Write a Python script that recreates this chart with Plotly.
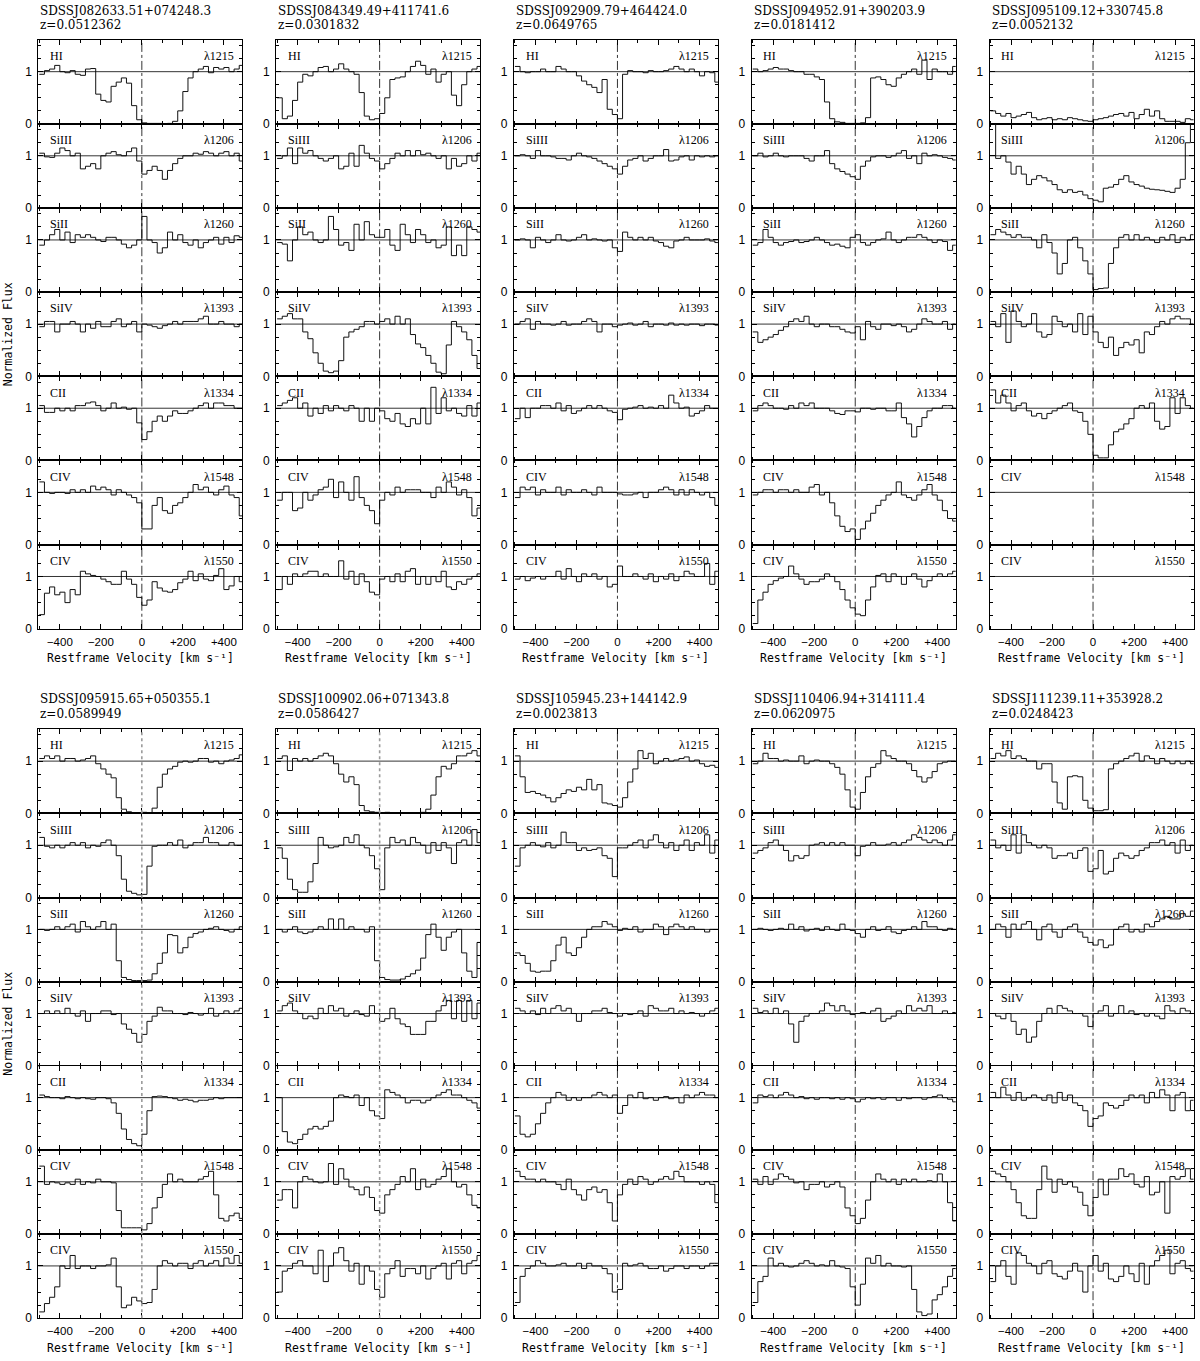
import numpy as np
import plotly.graph_objects as go

# ------------------------------------------------------------------ data
sightlines = ["SDSSJ082633.51+074248.3", "SDSSJ084349.49+411741.6", "SDSSJ092909.79+464424.0",
              "SDSSJ094952.91+390203.9", "SDSSJ095109.12+330745.8", "SDSSJ095915.65+050355.1",
              "SDSSJ100902.06+071343.8", "SDSSJ105945.23+144142.9", "SDSSJ110406.94+314111.4",
              "SDSSJ111239.11+353928.2"]
redshifts = ["z=0.0512362", "z=0.0301832", "z=0.0649765", "z=0.0181412", "z=0.0052132",
             "z=0.0589949", "z=0.0586427", "z=0.0023813", "z=0.0620975", "z=0.0248423"]
ion_labels = ["HI", "SiIII", "SiII", "SiIV", "CII", "CIV", "CIV"]
line_labels = ["λ1215", "λ1206", "λ1260", "λ1393", "λ1334", "λ1548", "λ1550"]
x_tick_vals = [-400, -200, 0, 200, 400]
x_tick_text = ["−400", "−200", "0", "+200", "+400"]
y_tick_vals = [0, 1]
y_tick_text = ["0", "1"]
v_start = -500.0
bin_width = 25.0

# J0826
q1_HI = [0.95,1.02,1.05,1.12,1.0,0.98,1.02,0.95,0.93,1.05, 1.06,0.57,0.45,0.42,0.72,0.8,0.88,0.78,0.35,0.08, 0.02,0.01,0.01,0.01,0.0,0.01,0.05,0.25,0.62,0.88, 1.0,1.05,1.1,0.98,1.08,1.05,1.08,1.0,1.05,1.12]
q1_SiIII = [1.05,0.98,0.97,1.05,1.15,1.1,1.0,1.05,0.75,0.8, 0.85,0.75,1.0,1.05,1.08,1.02,1.0,1.08,1.15,0.9, 0.65,0.72,0.8,0.72,0.55,0.72,0.85,0.95,1.0,1.0, 1.05,1.03,1.08,1.05,1.0,1.05,1.08,1.0,1.05,0.9]
q1_SiII = [0.9,1.0,1.1,1.2,1.0,1.15,0.95,1.1,1.05,1.1, 1.05,1.0,0.97,1.05,1.05,1.0,0.92,0.85,0.9,1.0, 1.45,1.0,0.95,0.75,0.85,1.15,1.0,1.1,0.95,0.9, 1.0,0.85,0.95,1.0,1.05,0.92,1.05,0.95,1.08,1.05]
q1_SiIV = [0.95,1.05,1.05,0.85,1.0,1.0,1.05,1.0,0.85,1.0, 0.92,1.05,0.95,0.95,1.05,1.1,0.95,1.0,1.05,0.85, 1.0,0.98,0.95,0.92,0.97,1.0,1.05,1.0,1.05,1.05, 1.05,1.1,1.15,1.0,1.0,1.05,1.0,1.0,0.95,1.0]
q1_CII = [1.05,0.92,0.92,1.0,0.95,1.0,0.95,1.05,1.05,1.1, 1.12,1.05,0.95,1.0,1.1,1.0,1.02,0.98,1.0,0.72, 0.4,0.55,0.75,0.85,0.75,0.85,0.95,0.9,0.9,0.95, 1.0,1.05,1.1,1.0,1.1,1.1,1.05,1.05,1.0,1.0]
q1_CIV1548 = [1.2,1.0,0.98,1.0,1.0,0.98,1.05,1.0,1.05,1.0, 1.12,1.05,1.1,1.05,0.95,1.05,1.0,0.95,0.9,0.8, 0.3,0.3,0.75,0.9,0.65,0.6,0.75,0.8,0.9,1.0, 1.15,1.05,1.1,1.0,0.95,1.05,1.12,0.95,0.9,0.55]
q1_CIV1550 = [0.27,0.68,0.8,0.65,0.7,0.5,0.75,0.65,1.1,1.05, 1.02,1.0,0.95,0.9,0.85,0.85,1.1,0.95,0.85,0.6, 0.45,0.55,0.9,0.78,0.72,0.7,0.75,0.88,0.95,1.1, 0.92,1.05,0.95,0.92,1.02,1.15,0.75,0.82,1.0,0.9]

# J0843
q2_HI = [0.5,0.1,0.15,0.45,0.8,0.95,0.92,1.0,1.08,1.1, 1.0,1.05,1.15,1.05,1.0,0.95,0.6,0.15,0.08,0.1, 0.2,0.5,0.85,0.88,0.9,1.0,1.1,1.2,1.12,0.95, 1.05,0.8,0.95,1.0,0.55,0.35,0.75,1.0,1.05,1.1]
q2_SiIII = [0.95,1.0,1.15,0.85,1.15,1.05,1.1,1.0,0.95,0.9, 0.95,1.0,0.75,0.8,1.05,0.8,1.2,1.05,0.95,0.9, 0.75,0.85,0.95,1.05,1.0,1.1,1.0,1.1,1.02,1.05, 1.0,0.95,1.0,0.75,0.95,0.8,0.85,1.0,0.9,1.05]
q2_SiII = [0.95,0.92,0.6,1.0,1.25,1.1,1.15,1.0,0.95,1.0, 1.45,1.2,0.9,0.95,0.8,1.3,1.0,1.35,1.1,1.05, 1.05,1.2,0.9,0.8,1.3,1.1,0.95,1.2,1.1,0.95, 1.0,0.85,0.9,1.25,0.7,0.9,0.7,1.25,1.2,1.15]
q2_SiIV = [1.1,1.15,1.2,1.1,1.1,0.85,0.72,0.45,0.25,0.1, 0.07,0.1,0.3,0.75,0.85,0.9,0.95,1.05,1.05,1.0, 1.05,1.1,1.0,1.15,1.0,1.1,0.8,0.62,0.55,0.4, 0.25,0.08,0.05,0.6,1.05,0.95,0.85,0.7,0.4,0.15]
q2_CII = [1.05,1.1,1.15,1.2,1.0,1.1,0.85,1.0,0.9,1.05, 0.95,1.05,1.0,0.95,1.05,1.0,0.75,1.0,0.75,1.0, 0.95,0.8,0.75,0.9,0.7,0.65,0.8,0.7,1.0,0.7, 1.4,0.9,1.2,0.95,1.0,0.9,0.85,1.05,0.85,1.1]
q2_CIV1548 = [0.85,1.0,1.0,0.65,0.7,1.0,0.85,0.95,1.05,1.1, 1.25,0.9,1.2,1.0,0.85,1.3,0.9,0.75,0.65,0.4, 0.85,1.0,0.95,1.1,1.0,1.05,1.05,1.05,1.0,1.0, 0.9,1.1,1.0,1.2,1.1,0.95,1.05,0.9,0.55,0.7]
q2_CIV1550 = [0.75,1.0,0.85,1.05,1.0,1.05,1.1,1.1,1.0,1.05, 1.0,1.0,1.3,0.95,1.1,0.85,1.05,0.9,0.7,0.65, 0.95,1.0,0.9,1.05,0.9,1.1,1.15,0.85,1.0,0.85, 1.0,0.9,1.1,0.8,0.75,0.9,0.85,0.95,1.0,1.05]

# J0929
q3_HI = [1.1,1.0,0.98,1.0,1.0,1.05,1.0,1.0,1.1,1.05, 1.0,1.0,0.92,0.82,0.75,0.7,0.6,0.85,0.28,0.18, 0.1,0.95,1.02,1.0,1.0,0.98,1.02,1.0,1.0,1.02, 1.05,1.1,1.05,1.0,1.05,1.0,0.92,1.0,0.98,0.8]
q3_SiIII = [1.0,1.02,1.0,0.95,1.1,1.0,1.0,0.98,0.95,0.95, 0.92,1.0,1.05,1.0,0.98,0.95,0.9,0.85,0.8,0.75, 0.65,0.8,0.92,0.95,1.0,0.9,0.95,1.0,1.0,1.12, 0.9,0.92,0.98,1.0,0.92,1.0,0.98,1.0,0.98,1.0]
q3_SiII = [1.0,1.02,1.0,0.85,1.05,1.0,0.95,1.0,1.1,1.0, 0.98,1.0,1.05,1.1,1.0,1.02,1.0,0.98,1.0,0.85, 0.78,1.15,1.05,1.0,1.05,1.0,1.05,0.98,0.95,0.88, 0.85,0.98,1.0,1.05,1.0,1.0,1.0,1.02,0.98,0.95]
q3_SiIV = [1.0,1.05,1.1,0.9,1.05,1.0,1.0,0.98,1.0,1.05, 0.98,1.0,1.0,1.05,1.1,1.05,0.85,1.0,1.0,0.95, 0.98,1.0,1.02,0.98,1.0,1.05,0.95,1.0,1.0,0.98, 1.02,0.98,1.0,0.98,1.0,1.0,0.97,1.0,1.0,0.98]
q3_CII = [0.8,1.0,0.82,1.0,1.0,1.05,1.05,1.0,1.1,0.95, 1.05,0.9,0.95,1.0,1.05,1.0,1.05,1.0,0.95,0.92, 0.78,0.98,1.0,1.02,1.05,1.0,1.02,1.0,1.05,1.0, 1.25,1.1,1.0,1.02,0.85,0.9,0.95,1.05,1.0,1.0]
q3_CIV1548 = [0.9,1.1,1.05,1.1,0.95,1.05,1.0,1.0,1.1,0.95, 1.05,1.0,1.0,1.05,1.0,0.95,1.1,1.0,1.0,1.0, 0.97,0.95,0.95,0.97,1.0,0.9,1.0,1.0,1.05,1.1, 1.05,0.95,1.05,0.95,1.05,1.0,0.95,1.0,0.9,0.75]
q3_CIV1550 = [0.95,1.0,0.92,0.97,1.0,0.95,1.0,1.0,1.1,0.95, 1.15,1.0,0.9,1.05,1.0,1.05,0.95,1.0,0.8,0.85, 1.2,1.0,1.0,1.05,1.0,0.95,1.05,0.9,1.0,0.95, 1.05,0.92,1.0,1.1,1.05,1.0,1.0,1.25,0.85,1.1]

# J0949
q4_HI = [1.05,1.0,1.02,1.05,1.08,1.05,1.05,1.02,1.0,1.0, 0.95,0.95,0.9,0.85,0.42,0.1,0.04,0.03,0.01,0.01, 0.01,0.02,0.12,0.88,0.9,0.85,0.75,0.72,0.88,0.95, 1.0,1.05,0.95,1.22,0.85,1.05,1.0,1.0,0.95,1.1]
q4_SiIII = [1.0,1.05,0.98,1.0,1.05,1.0,0.98,1.0,1.0,1.0, 0.95,0.9,1.0,1.0,1.1,0.85,0.75,0.7,0.65,0.6, 0.55,0.8,0.9,0.98,1.0,1.0,0.97,1.0,1.05,1.1, 0.95,1.0,0.85,1.05,1.0,1.02,1.0,0.97,0.95,0.92]
q4_SiII = [0.9,0.95,1.2,1.05,0.95,0.9,0.95,0.97,1.0,0.95, 0.97,1.0,1.05,1.0,0.95,0.9,0.92,0.88,0.85,1.05, 1.1,0.95,0.9,0.95,1.0,1.02,1.15,1.0,0.95,1.0, 1.05,1.05,1.1,1.05,1.0,0.95,1.0,0.97,0.8,0.9]
q4_SiIV = [0.85,0.65,0.7,0.75,0.8,0.88,0.95,1.05,1.1,1.05, 1.15,1.0,0.95,1.0,1.0,0.95,0.95,0.9,0.85,0.83, 0.95,0.7,1.05,0.95,0.9,1.0,1.0,0.97,1.0,0.95, 0.85,0.9,1.0,1.1,1.05,1.0,1.0,1.05,0.9,1.0]
q4_CII = [0.95,1.05,1.1,1.05,1.0,1.0,0.98,1.05,1.0,1.1, 1.05,1.1,1.0,1.0,1.0,0.95,0.9,0.88,0.95,0.95, 0.93,1.0,1.0,0.98,1.0,1.0,0.95,0.95,1.1,0.82, 0.7,0.45,0.65,0.82,0.95,1.0,1.0,1.05,1.05,1.0]
q4_CIV1548 = [0.95,1.0,1.05,1.05,1.0,1.05,1.05,1.0,1.05,1.0, 1.0,1.1,1.15,0.95,1.0,0.8,0.55,0.35,0.25,0.3, 0.1,0.3,0.45,0.6,0.75,0.85,0.95,1.0,1.2,0.95, 0.9,0.85,0.95,1.05,1.15,0.95,0.85,0.65,0.5,0.45]
q4_CIV1550 = [0.1,0.55,0.7,0.85,0.92,0.97,1.0,1.2,1.05,0.95, 0.85,0.9,0.9,0.95,1.05,1.0,0.9,0.75,0.55,0.4, 0.28,0.25,0.55,0.8,1.02,1.05,0.9,1.05,1.0,0.85, 1.0,1.05,0.95,0.8,0.92,1.0,1.05,1.0,1.05,1.1]

# J0951 (no CIV coverage)
q5_HI = [0.25,0.2,0.15,0.2,0.12,0.15,0.18,0.22,0.12,0.08, 0.1,0.12,0.08,0.1,0.08,0.12,0.1,0.08,0.06,0.05, 0.08,0.1,0.12,0.15,0.18,0.2,0.15,0.22,0.1,0.18, 0.28,0.15,0.25,0.1,0.05,0.05,0.05,0.03,0.1,0.08]
q5_SiIII = [1.8,0.95,1.0,0.88,0.65,0.8,0.65,0.45,0.55,0.62, 0.58,0.52,0.45,0.35,0.3,0.35,0.3,0.32,0.25,0.18, 0.15,0.12,0.38,0.4,0.45,0.55,0.62,0.5,0.45,0.42, 0.38,0.36,0.35,0.34,0.32,0.3,0.38,0.55,1.25,1.8]
q5_SiII = [1.1,1.2,1.15,1.1,1.05,1.1,1.05,1.05,1.0,0.85, 1.1,0.95,0.75,0.35,0.55,1.0,1.05,0.85,0.6,0.35, 0.05,0.07,0.08,0.55,0.85,1.05,1.1,1.0,1.1,1.0, 1.05,1.0,0.95,1.05,1.0,1.1,0.95,1.05,1.0,1.1]
q5_SiIV = [1.05,0.95,1.2,0.65,1.25,1.05,0.95,1.0,1.2,0.85, 0.75,0.8,1.15,1.05,0.95,1.0,0.85,1.2,0.8,1.15, 0.85,0.65,0.55,0.75,0.4,0.55,0.65,0.6,0.7,0.45, 0.85,0.8,0.95,1.05,1.0,1.1,1.15,1.1,1.1,1.0]
q5_CII = [1.35,1.1,1.25,1.1,0.95,1.05,1.1,0.95,0.85,0.9, 0.8,0.9,0.95,1.0,1.05,1.1,0.95,0.92,0.75,0.5, 0.1,0.05,0.05,0.3,0.55,0.6,0.7,0.8,1.0,1.05, 1.0,1.1,0.75,0.6,0.65,1.2,0.9,1.2,1.05,1.0]
q5_CIV1548 = None
q5_CIV1550 = None

# J0959
q6_HI = [1.05,1.1,1.05,1.1,1.0,1.05,1.05,1.0,1.02,1.05, 1.1,0.95,0.85,0.75,0.68,0.3,0.08,0.03,0.01,0.01, 0.02,0.01,0.1,0.5,0.75,0.85,0.9,0.98,1.0,0.98, 1.0,1.05,1.05,0.98,1.0,0.95,1.0,1.02,1.05,1.12]
q6_SiIII = [1.15,0.98,0.95,1.0,0.95,1.0,1.05,1.0,1.05,0.95, 1.0,0.98,1.05,1.1,1.0,0.8,0.35,0.12,0.08,0.05, 0.06,0.6,0.98,1.0,1.0,1.05,1.0,1.1,0.95,1.0, 1.05,1.05,1.15,1.05,1.05,1.0,1.0,1.05,1.0,1.0]
q6_SiII = [1.0,0.98,1.0,1.05,1.0,1.05,1.1,0.95,1.15,1.05, 1.0,1.05,1.15,1.0,1.1,0.4,0.08,0.04,0.02,0.02, 0.02,0.03,0.15,0.35,0.55,0.9,0.88,0.55,0.65,0.85, 0.92,0.95,1.0,1.02,1.05,1.0,0.98,0.95,1.0,1.05]
q6_SiIV = [1.0,1.05,1.0,1.05,1.0,1.1,1.0,0.95,1.05,0.85, 1.0,1.0,1.05,1.05,0.98,1.0,0.8,0.7,0.62,0.45, 0.6,0.85,0.95,1.12,1.05,1.05,1.0,1.0,0.98,1.02, 1.0,0.97,1.0,1.1,0.95,1.0,1.05,1.0,1.05,1.1]
q6_CII = [1.05,1.02,1.0,1.0,0.98,1.02,1.0,0.98,1.0,0.98, 0.97,1.0,1.0,0.98,0.9,0.7,0.4,0.2,0.12,0.08, 0.3,0.75,1.02,1.03,1.02,1.0,0.98,0.95,0.97,0.95, 0.92,0.95,0.95,0.97,1.0,0.98,1.0,1.0,1.0,1.0]
q6_CIV1548 = [1.3,0.95,1.0,0.98,0.95,0.98,0.95,1.05,0.95,1.0, 0.98,1.05,1.0,1.0,0.98,0.45,0.12,0.12,0.12,0.12, 0.08,0.2,0.5,0.7,0.95,1.15,1.0,1.05,1.0,1.0, 1.0,1.05,1.1,1.2,0.75,0.3,0.25,0.35,0.4,0.3]
q6_CIV1550 = [0.12,0.28,0.4,0.6,1.0,0.95,1.2,0.95,1.0,1.0, 0.95,1.0,1.0,1.02,1.15,0.6,0.2,0.25,0.4,0.33, 0.28,0.3,0.55,1.0,1.1,1.05,1.0,1.05,1.05,0.95, 1.05,1.1,1.0,1.05,1.1,1.0,1.15,1.05,1.2,1.05]

# J1009
q7_HI = [1.05,1.1,0.82,1.05,1.0,1.05,1.0,1.05,1.1,1.15, 1.1,0.95,0.75,0.6,0.7,0.55,0.15,0.05,0.03,0.02, 0.01,0.02,0.01,0.01,0.01,0.0,0.01,0.01,0.02,0.08, 0.35,0.7,0.9,0.85,0.95,1.1,1.1,1.15,1.2,1.1]
q7_SiIII = [0.95,0.75,0.35,0.15,0.1,0.1,0.3,0.65,1.15,1.0, 0.95,0.97,1.0,1.15,1.05,1.2,1.0,0.95,0.8,0.55, 0.15,0.95,1.15,1.05,1.1,1.0,1.15,1.05,1.0,0.85, 1.05,0.9,1.05,0.95,0.65,1.05,1.1,1.0,1.3,1.05]
q7_SiII = [1.0,0.95,1.0,1.05,0.95,0.92,0.95,1.0,1.05,1.0, 1.2,1.0,1.2,1.0,1.05,1.0,1.0,0.95,1.05,0.4, 0.08,0.04,0.03,0.03,0.05,0.1,0.15,0.22,0.45,0.9, 1.1,0.85,0.6,0.85,0.95,1.0,0.55,0.2,0.08,0.75]
q7_SiIV = [1.05,1.15,1.2,1.05,1.0,0.9,0.95,0.9,1.1,1.0, 1.15,1.05,1.1,0.95,1.0,1.05,0.98,0.95,1.15,1.0, 0.85,0.9,1.1,0.9,0.8,0.75,0.6,0.6,0.6,0.85, 0.85,1.05,1.15,1.25,0.9,1.25,0.85,1.25,0.9,1.2]
q7_CII = [1.0,0.35,0.15,0.12,0.2,0.3,0.4,0.45,0.4,0.45, 0.55,1.0,1.05,1.02,1.0,1.05,0.85,1.0,0.75,0.65, 0.6,1.15,1.1,1.05,1.0,0.9,0.95,0.95,0.9,0.95, 1.0,1.05,1.1,1.15,1.05,1.05,1.0,0.95,0.9,0.8]
q7_CIV1548 = [0.65,0.85,0.85,0.5,1.0,1.1,1.05,1.0,0.98,1.0, 1.35,0.95,1.25,1.05,0.9,0.85,0.75,0.9,0.7,0.45, 0.4,0.75,0.85,0.95,1.1,1.0,1.25,0.85,1.05,0.9, 0.95,1.05,1.1,1.25,1.0,0.9,0.95,0.75,0.55,0.5]
q7_CIV1550 = [0.5,0.9,0.95,1.05,1.1,1.0,1.0,0.85,1.3,0.7, 1.0,1.25,1.35,1.1,0.9,1.05,0.65,1.0,0.9,0.55, 0.4,0.85,0.95,1.1,0.8,0.95,0.95,0.85,1.0,0.75, 0.95,1.0,1.05,0.75,1.05,1.1,0.85,1.05,1.1,1.2]

# J1059
q8_HI = [1.1,0.7,0.4,0.42,0.38,0.35,0.3,0.22,0.3,0.38, 0.45,0.42,0.5,0.45,0.65,0.45,0.55,0.2,0.18,0.15, 0.12,0.3,0.6,0.85,1.2,1.05,1.15,0.95,1.0,1.05, 1.0,1.02,1.05,1.08,1.0,1.02,0.95,0.9,0.92,0.88]
q8_SiIII = [0.6,0.95,1.0,1.05,1.0,0.97,1.05,0.95,1.0,1.25, 1.05,1.05,0.9,0.95,0.9,0.92,0.95,0.8,0.75,0.4, 0.95,0.95,1.0,1.05,1.1,0.95,1.1,1.2,1.05,0.95, 1.05,0.9,1.0,1.1,0.9,1.05,1.0,1.2,0.85,1.1]
q8_SiII = [0.55,0.5,0.35,0.2,0.18,0.2,0.2,0.4,0.7,0.85, 0.55,0.5,0.65,0.85,1.0,1.05,1.05,1.15,1.1,1.05, 0.98,1.02,1.0,1.05,0.95,1.0,1.0,1.1,1.05,0.9, 1.05,1.1,1.05,1.0,1.05,1.0,1.0,0.95,1.0,1.0]
q8_SiIV = [1.1,1.05,1.0,1.05,0.98,1.1,1.0,1.1,1.15,1.05, 1.1,1.0,0.85,1.0,1.0,1.05,1.05,1.1,1.02,1.0, 0.95,1.0,0.98,1.0,1.05,0.95,1.15,1.1,1.05,1.05, 1.1,1.0,1.05,1.0,1.02,1.0,0.95,1.0,1.05,1.1]
q8_CII = [0.65,0.3,0.25,0.3,0.5,0.7,0.9,1.0,1.1,1.05, 0.95,1.0,0.95,1.0,1.0,1.05,1.1,1.05,1.0,1.05, 0.7,0.85,1.05,1.0,1.1,0.98,1.0,0.95,1.0,1.02, 0.98,1.0,0.9,1.05,1.0,1.05,1.1,1.05,1.05,1.0]
q8_CIV1548 = [1.2,1.1,1.05,1.05,1.0,1.05,1.0,1.0,0.95,0.85, 1.05,0.85,0.75,0.65,0.85,0.9,0.8,0.85,0.6,0.25, 0.75,0.95,1.05,0.95,1.1,1.05,0.95,1.0,1.05,1.1, 1.05,1.2,1.1,1.0,1.0,1.0,0.95,1.0,0.95,0.6]
q8_CIV1550 = [0.3,0.8,0.95,1.0,1.1,1.05,1.0,1.0,1.02,1.05, 1.0,1.0,1.05,0.95,1.05,1.0,1.0,0.95,0.85,0.5, 0.55,1.05,1.0,1.02,1.05,1.0,0.95,0.95,1.0,0.9, 0.95,1.0,1.0,0.95,1.0,1.0,0.95,1.0,1.05,1.05]

# J1104
q9_HI = [0.95,1.0,1.15,1.05,1.05,1.0,1.02,1.0,1.0,1.1, 0.95,1.0,1.02,1.0,1.0,0.95,0.88,0.75,0.45,0.12, 0.08,0.4,0.7,0.88,0.95,1.2,1.1,1.05,1.0,1.0, 0.95,0.82,0.7,0.6,0.68,0.8,0.95,0.98,1.0,1.0]
q9_SiIII = [0.85,0.9,0.95,1.05,1.1,1.0,0.9,0.7,0.8,0.75, 0.8,1.0,1.02,1.05,1.0,1.05,1.0,1.05,1.0,1.0, 0.8,0.98,1.0,1.05,1.0,1.0,1.02,1.05,1.0,1.05, 1.1,1.2,1.15,1.1,1.05,1.1,1.05,1.0,1.1,1.2]
q9_SiII = [1.0,1.02,1.0,0.98,1.0,1.02,1.0,1.1,1.0,1.05, 0.97,1.0,1.02,0.98,1.05,1.0,0.98,1.1,1.0,0.98, 0.92,0.85,1.0,1.05,0.98,1.0,1.05,0.95,0.92,0.98, 1.0,1.05,1.0,1.15,1.05,1.05,1.0,0.98,1.02,1.0]
q9_SiIV = [1.1,1.02,1.05,1.0,1.1,1.0,1.05,0.8,0.45,0.85, 0.95,1.0,1.0,1.05,1.2,1.15,1.05,1.15,1.05,0.98, 1.0,1.02,1.0,1.05,1.1,0.85,0.9,0.95,1.05,1.0, 1.15,1.05,1.1,1.05,1.15,1.0,1.0,1.05,1.0,1.02]
q9_CII = [0.9,1.05,1.02,1.05,1.0,1.05,1.1,1.05,1.0,1.02, 0.98,1.0,0.97,1.0,1.0,0.98,1.0,0.97,1.0,0.98, 0.92,0.97,1.0,0.98,1.0,0.97,1.0,1.0,0.95,1.0, 0.98,1.0,1.0,0.97,1.0,1.02,1.05,1.0,0.97,0.92]
q9_CIV1548 = [1.05,0.95,1.1,0.95,1.05,1.15,1.1,1.05,0.98,1.0, 0.85,0.95,0.95,1.0,0.9,0.95,1.0,0.9,0.5,0.35, 0.2,0.3,0.65,1.0,1.15,1.05,1.0,1.05,0.95,1.05, 1.0,1.05,1.0,1.0,1.02,1.0,1.15,1.0,0.6,0.25]
q9_CIV1550 = [0.3,0.7,0.8,1.15,1.0,1.05,1.0,0.98,1.0,1.05, 1.1,1.05,1.0,1.02,1.0,1.1,1.0,0.98,0.95,0.6, 0.25,0.65,1.15,1.05,1.2,1.0,1.05,1.0,1.0,0.98, 1.0,0.55,0.12,0.05,0.08,0.35,0.45,0.6,0.8,0.95]

# J1112
q10_HI = [1.05,1.15,1.1,1.2,1.05,1.1,1.05,1.0,1.0,0.85, 0.95,0.95,0.6,0.2,0.08,0.7,0.72,0.7,0.25,0.1, 0.05,0.05,0.07,0.85,0.95,1.0,1.05,1.1,1.15,1.0, 1.1,1.05,0.95,1.05,1.0,0.95,1.0,0.95,1.0,0.95]
q10_SiIII = [1.1,0.95,1.0,0.9,1.2,0.85,1.2,1.05,1.0,0.95, 1.0,0.95,0.75,0.8,0.8,0.85,0.75,0.9,0.95,0.5, 0.55,0.9,0.45,0.5,0.75,0.85,0.8,0.75,0.8,0.9, 0.95,1.05,1.05,1.1,1.0,1.05,0.85,1.1,0.9,1.0]
q10_SiII = [1.0,1.1,1.05,0.85,1.1,1.0,1.1,1.15,1.0,0.8, 1.05,1.1,0.95,0.85,1.0,1.05,1.1,0.95,0.85,0.75, 0.7,0.8,0.65,0.7,1.0,1.05,1.1,0.95,1.0,0.95, 1.1,1.05,1.15,1.2,1.25,1.2,1.2,1.3,1.25,1.35]
q10_SiIV = [1.0,0.95,0.9,1.0,0.85,0.6,0.7,0.45,0.55,0.85, 1.0,1.1,1.0,1.15,1.1,1.05,1.0,1.0,0.95,0.75, 1.0,1.05,1.15,0.95,1.0,1.15,1.0,1.05,0.98,1.0, 0.95,1.0,0.95,0.9,1.15,1.05,1.0,1.1,1.05,1.0]
q10_CII = [1.1,1.0,1.2,1.05,0.95,1.1,0.95,1.0,1.05,1.0, 0.95,1.05,0.9,1.1,0.95,1.05,0.9,0.85,0.75,0.45, 0.6,0.65,0.9,0.85,0.8,0.85,0.95,1.05,1.0,1.05, 0.9,1.1,1.0,1.15,1.05,0.75,1.05,1.1,0.75,0.95]
q10_CIV1548 = [1.2,1.15,1.1,1.0,0.85,0.6,0.35,0.3,0.3,0.85, 1.3,1.05,0.8,1.05,0.95,1.0,0.9,0.8,0.55,0.35, 0.7,1.05,0.75,1.05,1.05,1.25,1.1,1.15,0.95,0.9, 1.1,0.75,0.8,1.0,0.4,1.1,1.05,1.1,1.25,1.05]
q10_CIV1550 = [0.7,1.0,1.1,0.8,0.65,1.25,1.2,1.05,1.0,0.85, 1.05,1.1,0.85,0.8,0.75,0.9,1.05,0.9,0.5,1.0, 1.2,0.9,1.05,0.75,0.7,0.8,1.0,0.85,0.7,1.05, 0.65,1.0,1.1,1.2,1.3,0.85,1.05,1.1,0.95,0.9]

spectra = [
    [q1_HI, q1_SiIII, q1_SiII, q1_SiIV, q1_CII, q1_CIV1548, q1_CIV1550],
    [q2_HI, q2_SiIII, q2_SiII, q2_SiIV, q2_CII, q2_CIV1548, q2_CIV1550],
    [q3_HI, q3_SiIII, q3_SiII, q3_SiIV, q3_CII, q3_CIV1548, q3_CIV1550],
    [q4_HI, q4_SiIII, q4_SiII, q4_SiIV, q4_CII, q4_CIV1548, q4_CIV1550],
    [q5_HI, q5_SiIII, q5_SiII, q5_SiIV, q5_CII, q5_CIV1548, q5_CIV1550],
    [q6_HI, q6_SiIII, q6_SiII, q6_SiIV, q6_CII, q6_CIV1548, q6_CIV1550],
    [q7_HI, q7_SiIII, q7_SiII, q7_SiIV, q7_CII, q7_CIV1548, q7_CIV1550],
    [q8_HI, q8_SiIII, q8_SiII, q8_SiIV, q8_CII, q8_CIV1548, q8_CIV1550],
    [q9_HI, q9_SiIII, q9_SiII, q9_SiIV, q9_CII, q9_CIV1548, q9_CIV1550],
    [q10_HI, q10_SiIII, q10_SiII, q10_SiIV, q10_CII, q10_CIV1548, q10_CIV1550],
]

bad = [(q, p, len(s)) for q, row in enumerate(spectra) for p, s in enumerate(row)
       if s is not None and len(s) != 40]
if bad:
    raise ValueError(f"bad lengths: {bad}")

# ------------------------------------------------------------------ layout
W, H = 1200, 1361
col_left0, col_pitch, panel_w = 38.3, 237.8, 204.0
block_shift = 693.0
block_top = [40.0, 40.0 + block_shift]
panel_h = 592.0 / 7
x_range = [-505, 490]
y_range = [0, 1.61]

serif = "DejaVu Serif"
label_font = dict(family="Liberation Serif", size=12, color="black")
tick_font = dict(family="Liberation Sans", size=11.5, color="black")
mono = dict(family="DejaVu Sans Mono", size=11.5, color="black")
x_title = "Restframe Velocity [km s\u207b\u00b9]"

fig = go.Figure()
layout_axes = {}
shapes = []
annotations = []

for q in range(10):
    blk, col = divmod(q, 5)
    left = col_left0 + col * col_pitch
    for p in range(7):
        n = q * 7 + p + 1
        xr = "x" if n == 1 else f"x{n}"
        yr = "y" if n == 1 else f"y{n}"
        top = block_top[blk] + p * panel_h
        bot = top + panel_h
        layout_axes["xaxis" if n == 1 else f"xaxis{n}"] = dict(
            domain=[left / W, (left + panel_w) / W], range=x_range, anchor=yr,
            showline=True, linecolor="black", linewidth=1, mirror="ticks",
            ticks="inside", ticklen=5, tickwidth=1, tickcolor="black",
            tickmode="array", tickvals=x_tick_vals, ticktext=x_tick_text,
            showticklabels=(p == 6), tickfont=tick_font, ticklabelstandoff=2,
            showgrid=False, zeroline=False, fixedrange=True,
            minor=dict(tickmode="array", tickvals=[-500, -300, -100, 100, 300],
                       ticks="inside", ticklen=3, tickcolor="black", showgrid=False),
        )
        layout_axes["yaxis" if n == 1 else f"yaxis{n}"] = dict(
            domain=[1 - bot / H, 1 - top / H], range=y_range, anchor=xr,
            showline=True, linecolor="black", linewidth=1, mirror="ticks",
            ticks="inside", ticklen=5, tickwidth=1, tickcolor="black",
            tickmode="array", tickvals=y_tick_vals, ticktext=y_tick_text,
            tickfont=dict(family="Liberation Sans", size=12, color="black"),
            ticklabelstandoff=3,
            showgrid=False, zeroline=False, fixedrange=True,
            minor=dict(tickmode="array", tickvals=[0.25, 0.5, 0.75, 1.25, 1.5],
                       ticks="inside", ticklen=3, tickcolor="black", showgrid=False),
        )
        vals = spectra[q][p]
        if vals is not None:
            edges = v_start + bin_width * np.arange(len(vals) + 1)
            fig.add_trace(go.Scatter(
                x=edges, y=list(vals) + [vals[-1]], mode="lines",
                line=dict(color="#111111", width=1, shape="hv"),
                xaxis=xr, yaxis=yr, hoverinfo="skip", showlegend=False))
        # continuum level
        shapes.append(dict(type="line", xref=f"{xr} domain", yref=yr, x0=0, x1=1, y0=1, y1=1,
                           line=dict(color="black", width=0.8)))
        # systemic velocity marker
        if blk == 1 and col < 2:
            zl = dict(color="#9a9a9a", width=1.6, dash="dot")
        else:
            zl = dict(color="black", width=0.8, dash="dashdot")
        shapes.append(dict(type="line", xref=xr, yref=f"{yr} domain", x0=0, x1=0, y0=0, y1=1,
                           line=zl))
        annotations.append(dict(text=ion_labels[p], xref=xr, yref=yr, x=-458, y=1.3,
                                xanchor="left", yanchor="middle", showarrow=False, font=label_font))
        annotations.append(dict(text=line_labels[p], xref=xr, yref=yr, x=458, y=1.3,
                                xanchor="right", yanchor="middle", showarrow=False, font=label_font))
    # sightline title and redshift
    annotations.append(dict(text=sightlines[q], xref="paper", yref="paper", x=left / W,
                            y=1 - (10.8 + blk * (block_shift - 1)) / H, xanchor="left", yanchor="middle",
                            showarrow=False, font=dict(family=serif, size=12, color="black")))
    annotations.append(dict(text=redshifts[q], xref="paper", yref="paper", x=left / W,
                            y=1 - (25.5 + blk * (block_shift - 1)) / H, xanchor="left", yanchor="middle",
                            showarrow=False, font=dict(family=serif, size=12, color="black")))
    annotations.append(dict(text=x_title, xref="paper", yref="paper",
                            x=(left + panel_w / 2) / W, y=1 - (661.7 + blk * block_shift) / H,
                            xanchor="center", yanchor="middle", showarrow=False, font=mono))

for blk in range(2):
    annotations.append(dict(text="Normalized Flux", xref="paper", yref="paper", x=8 / W,
                            y=1 - (block_top[blk] + 296) / H, xanchor="center", yanchor="middle",
                            textangle=-90, showarrow=False, font=mono))

fig.update_layout(width=W, height=H, margin=dict(l=0, r=0, t=0, b=0),
                  paper_bgcolor="white", plot_bgcolor="white", showlegend=False,
                  shapes=shapes, annotations=annotations, **layout_axes)

fig.write_html("out.html", config={"displayModeBar": False, "staticPlot": True},
               post_script="document.body.style.margin='0px';document.body.style.overflow='hidden';")
